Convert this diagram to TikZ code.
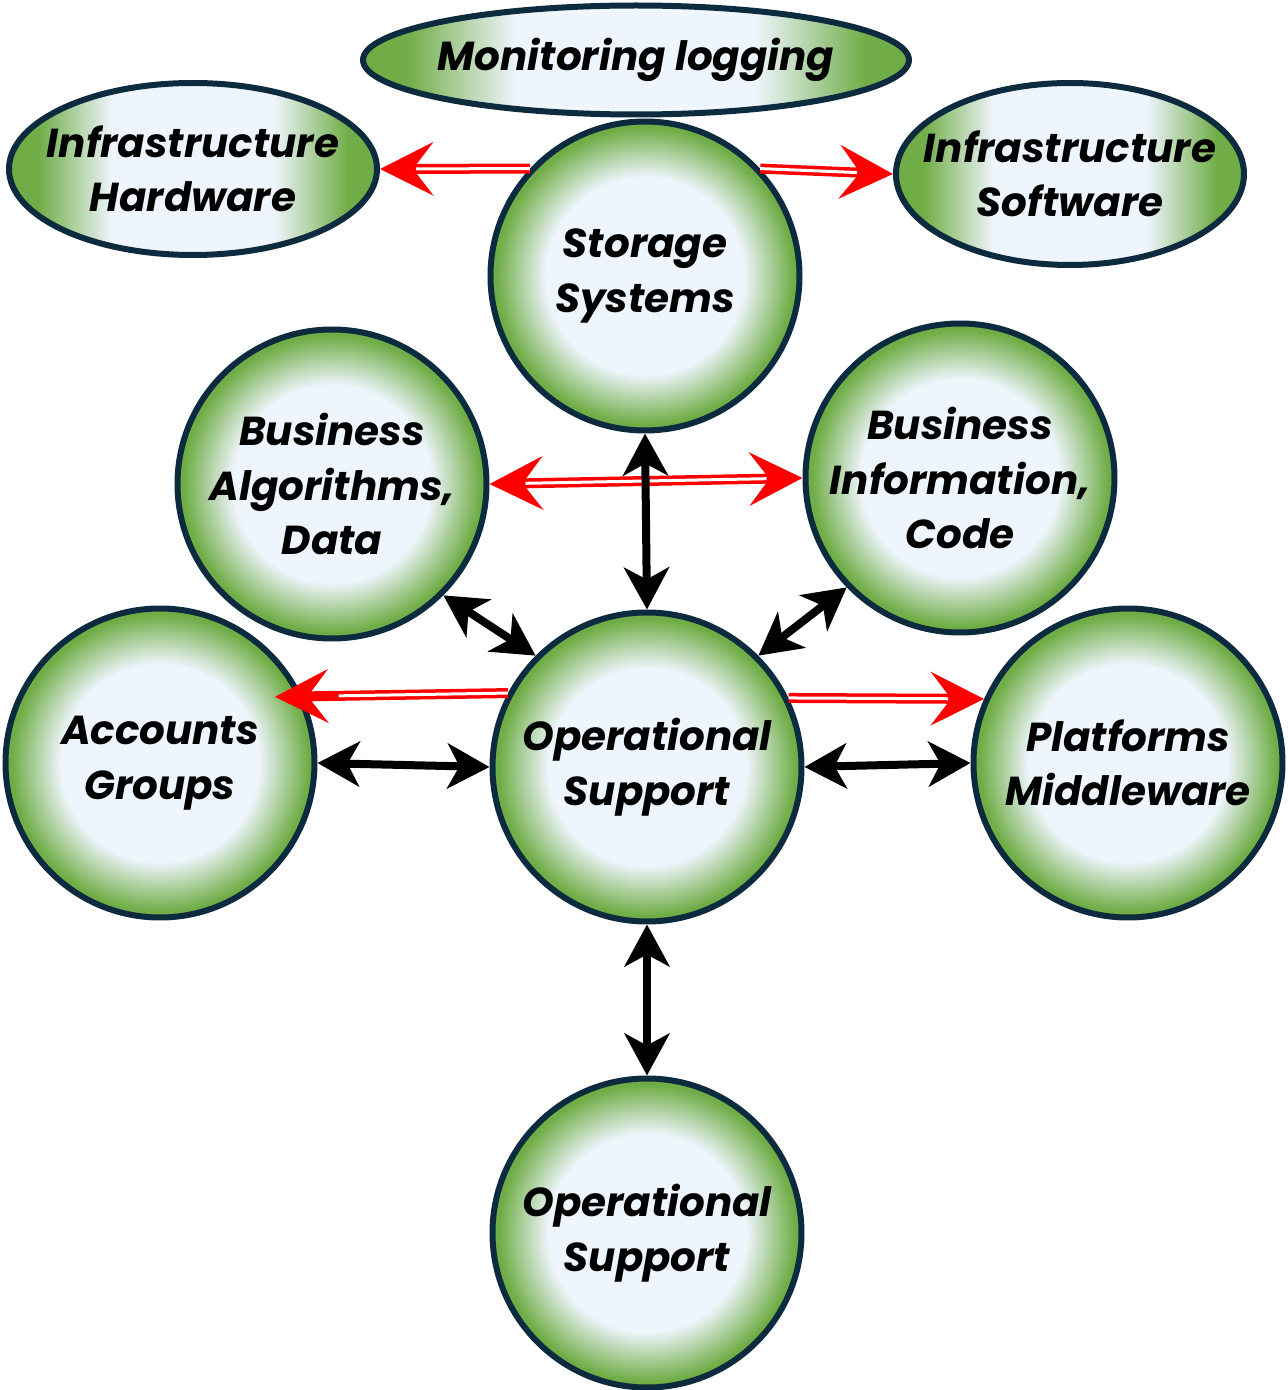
\documentclass[tikz,border=0pt]{standalone}
\usepackage{fontspec}
\setmainfont{Poppins}
\usepackage{tikz}
\usetikzlibrary{arrows.meta, shapes.geometric}
\definecolor{leaf}{HTML}{70AD47}
\definecolor{mist}{HTML}{EEF5FC}
\definecolor{navy}{HTML}{0D2B3E}
\pgfdeclareradialshading{ballshade}{\pgfpoint{0bp}{0bp}}{color(0bp)=(mist); color(16bp)=(mist); color(24bp)=(leaf); color(25bp)=(leaf); color(50bp)=(leaf)}
\pgfdeclarehorizontalshading{sideshade}{100bp}{color(0bp)=(leaf); color(29bp)=(leaf); color(39bp)=(mist); color(61bp)=(mist); color(71bp)=(leaf); color(100bp)=(leaf)}

\begin{document}
\begin{tikzpicture}[
    ball/.style={circle, draw=navy, line width=0.06cm, shading=ballshade,
        minimum size=3.09cm, inner sep=0pt, align=center,
        font=\fontsize{11.5}{15.5}\selectfont\bfseries\itshape},
    egg/.style={ellipse, draw=navy, line width=0.06cm, shading=sideshade,
        inner xsep=-0.35cm, inner ysep=0pt, align=center,
        font=\fontsize{11.5}{15.5}\selectfont\bfseries\itshape},
    redarrow/.style={draw=red, line width=0.1cm,
        -{Stealth[length=0.53cm, width=0.53cm, inset=0.2cm]},
        postaction={draw=white, line width=0.03cm, shorten >=0.36cm, -}},
    redboth/.style={draw=red, line width=0.1cm,
        {Stealth[length=0.53cm, width=0.53cm, inset=0.2cm]}-{Stealth[length=0.53cm, width=0.53cm, inset=0.2cm]},
        postaction={draw=white, line width=0.03cm, shorten >=0.36cm, shorten <=0.36cm, -}},
    blackboth/.style={draw=black, line width=0.08cm,
        {Stealth[length=0.42cm, width=0.45cm, inset=0.12cm]}-{Stealth[length=0.42cm, width=0.45cm, inset=0.12cm]}}
]
    \useasboundingbox (0,0) rectangle (12.88,13.90);

    % Draw the ellipses along the top
    \node[egg, minimum width=5.46cm, minimum height=1.09cm] (monitor) at (6.36, 13.30) {Monitoring logging};
    \node[egg, minimum width=3.68cm, minimum height=1.72cm] (hardware) at (1.93, 12.21) {Infrastructure\\Hardware};
    \node[egg, minimum width=3.48cm, minimum height=1.82cm] (software) at (10.70, 12.16) {Infrastructure\\Software};

    % Draw the circles
    \node[ball] (storage) at (6.45, 11.14) {Storage\\Systems};
    \node[ball] (algorithms) at (3.32, 9.06) {Business\\Algorithms,\\Data};
    \node[ball] (information) at (9.60, 9.12) {Business\\Information,\\Code};
    \node[ball] (accounts) at (1.60, 6.27) {Accounts\\Groups};
    \node[ball] (operations) at (6.47, 6.23) {Operational\\Support};
    \node[ball] (platforms) at (11.28, 6.27) {Platforms\\Middleware};
    \node[ball] (support) at (6.47, 1.57) {Operational\\Support};

    % Draw the red arrows
    \draw[redarrow] (storage.137) -- (hardware.east);
    \draw[redarrow] (storage.43) -- (software.west);
    \draw[redboth] (algorithms.east) -- (information.west);
    \draw[redarrow, shorten >=-0.28cm] (operations.152) -- (accounts.25);
    \draw[redarrow] (operations.26) -- (platforms.156);

    % Draw the black arrows
    \draw[blackboth] (storage.south) -- (operations.north);
    \draw[blackboth] (algorithms.-45) -- (operations.135);
    \draw[blackboth] (information.-136) -- (operations.45);
    \draw[blackboth] (accounts.east) -- (operations.west);
    \draw[blackboth] (operations.east) -- (platforms.west);
    \draw[blackboth] (operations.south) -- (support.north);

\end{tikzpicture}
\end{document}
